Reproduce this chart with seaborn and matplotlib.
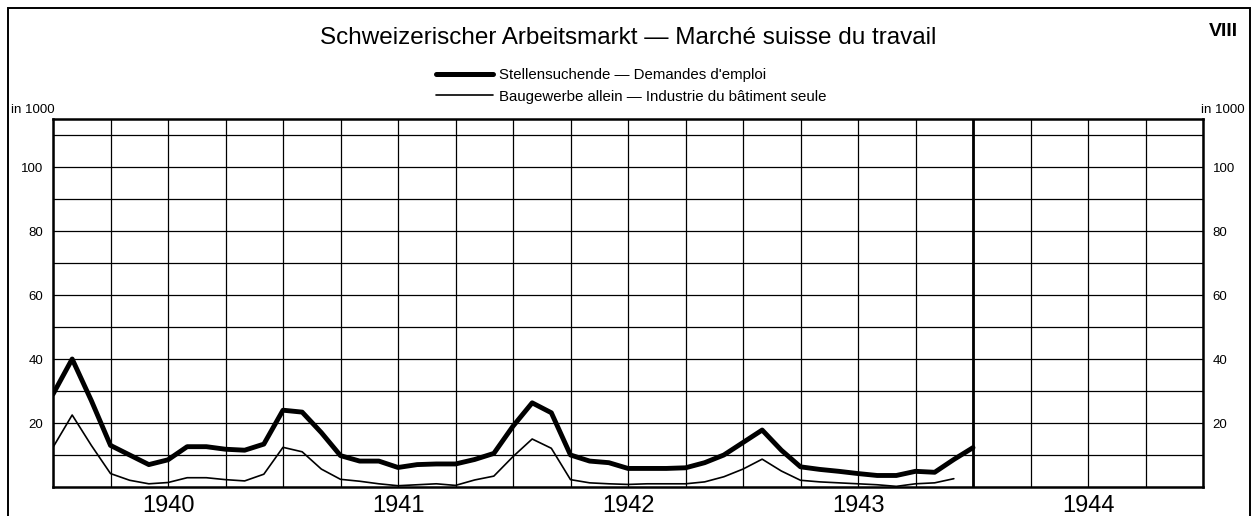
import matplotlib
matplotlib.use("Agg")
import matplotlib.pyplot as plt
import seaborn as sns
import pandas as pd
from matplotlib.lines import Line2D
from matplotlib.patches import Rectangle

# ---- data (thousands, monthly from Jan 1940) ----
stellensuchende = [29, 40, 27, 13, 10, 7, 8.5, 12.6, 12.6, 11.8, 11.5, 13.4,
                   24, 23.4, 17, 9.8, 8.1, 8.1, 6.1, 7, 7.2, 7.2, 8.6, 10.5,
                   19, 26.3, 23.2, 10, 8.1, 7.6, 5.8, 5.8, 5.8, 6, 7.6, 10,
                   13.9, 17.8, 11.5, 6.3, 5.5, 4.9, 4.2, 3.6, 3.6, 4.9, 4.6, 8.6,
                   12.3]
baugewerbe = [12.4, 22.5, 13, 4.2, 2.1, 1.0, 1.4, 2.9, 2.9, 2.3, 1.9, 4,
              12.4, 11, 5.6, 2.4, 1.8, 1.0, 0.4, 0.7, 1.0, 0.5, 2.2, 3.4,
              9.5, 15, 12.1, 2.3, 1.3, 1.0, 0.8, 1.0, 1.0, 1.0, 1.6, 3.2,
              5.6, 8.7, 5, 2.1, 1.6, 1.3, 1.0, 0.7, 0.2, 1.0, 1.3, 2.6]
years = ["1940", "1941", "1942", "1943", "1944"]
ytick_vals = [20, 40, 60, 80, 100]
title = "Schweizerischer Arbeitsmarkt \u2014 Marché suisse du travail"
label_thick = "Stellensuchende \u2014 Demandes d'emploi"
label_thin = "Baugewerbe allein \u2014 Industrie du bâtiment seule"

df1 = pd.DataFrame({"month": range(len(stellensuchende)), "value": stellensuchende})
df2 = pd.DataFrame({"month": range(len(baugewerbe)), "value": baugewerbe})

sns.set_theme(style="white")
plt.rcParams["font.family"] = ["Liberation Sans", "DejaVu Sans"]
plt.rcParams["text.color"] = "black"
plt.rcParams["xtick.color"] = "black"
plt.rcParams["ytick.color"] = "black"

W, H = 1256, 516
fig = plt.figure(figsize=(W / 100, H / 100), dpi=100)
ax = fig.add_axes([53 / W, (H - 487) / H, (1203 - 53) / W, (487 - 119) / H])

sns.lineplot(data=df1, x="month", y="value", ax=ax, color="black", linewidth=3.5,
             zorder=3)
sns.lineplot(data=df2, x="month", y="value", ax=ax, color="black", linewidth=1.2,
             zorder=3)
ax.set_xlabel("")
ax.set_ylabel("")

# grid
ax.set_xlim(0, 60)
ax.set_ylim(0, 115)
ax.xaxis.remove_overlapping_locs = False
ax.set_xticks(range(0, 61, 3))
ax.set_xticklabels([])
ax.set_yticks(range(10, 111, 10))
ax.set_yticklabels([str(v) if v in ytick_vals else "" for v in range(10, 111, 10)])
ax.grid(True, which="major", color="black", linewidth=0.9)
ax.axvline(48, color="black", linewidth=2.0, zorder=1.5)

ax.set_xticks([12 * i + 6 for i in range(len(years))], minor=True)
ax.set_xticklabels(years, minor=True)
ax.tick_params(axis="x", which="both", length=0, bottom=True)
ax.tick_params(axis="x", which="minor", pad=6, labelsize=17, labelbottom=True)
ax.tick_params(axis="y", length=0, left=False, right=False, labelleft=True,
               labelright=True, labelsize=9.5)
ax.tick_params(axis="y", which="major", pad=7)

for sp in ax.spines.values():
    sp.set_visible(True)
    sp.set_color("black")
    sp.set_linewidth(1.8)

# unit labels
fig.text(11 / W, 1 - 110 / H, "in 1000", fontsize=9.5, ha="left", va="center")
fig.text(1245 / W, 1 - 110 / H, "in 1000", fontsize=9.5, ha="right", va="center")

# title and plate number
fig.text(628 / W, 1 - 38 / H, title, fontsize=17.5, ha="center", va="center")
fig.text(1238 / W, 1 - 31 / H, "VIII", fontsize=14, fontweight="bold",
         ha="right", va="center")

# legend
handles = [Line2D([0], [0], color="black", linewidth=3.6),
           Line2D([0], [0], color="black", linewidth=1.2)]
fig.legend(handles, [label_thick, label_thin], loc="upper left",
           bbox_to_anchor=(436 / W, 1 - 68 / H), frameon=False, fontsize=10.8,
           handlelength=3.8, handletextpad=0.4, labelspacing=0.5,
           borderpad=0, borderaxespad=0)

# outer frame
fig.add_artist(Rectangle((8 / W, -0.01), (1250 - 8) / W, 1.01 - 8 / H,
                         transform=fig.transFigure, fill=False,
                         edgecolor="black", linewidth=1.4))

fig.savefig("out.png", dpi=100)
